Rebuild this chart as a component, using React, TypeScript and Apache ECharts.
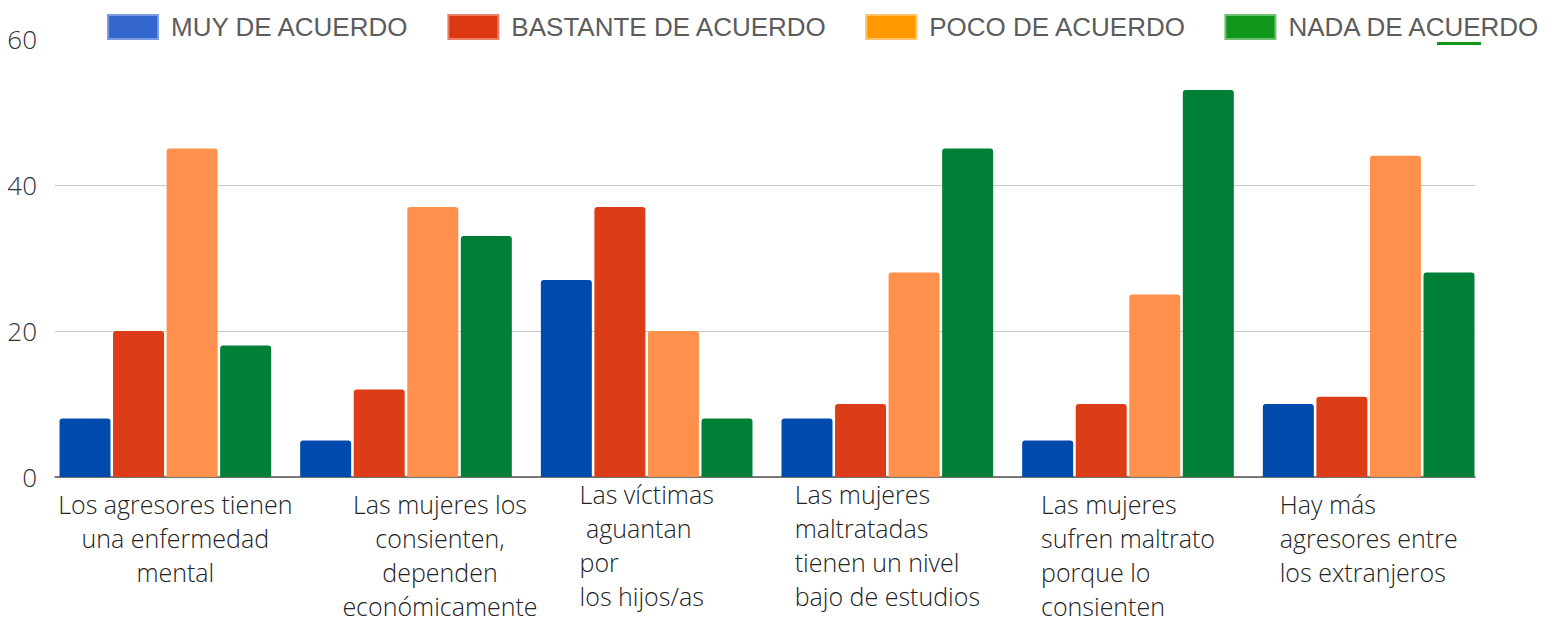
import React, { useEffect, useRef } from "react";
import * as echarts from "echarts";

const categories = [
  "Los agresores tienen\nuna enfermedad\nmental",
  "Las mujeres los\nconsienten,\ndependen\neconómicamente",
  "Las víctimas\n aguantan\npor\nlos hijos/as",
  "Las mujeres\nmaltratadas\ntienen un nivel\nbajo de estudios",
  "Las mujeres\nsufren maltrato\nporque lo\nconsienten",
  "Hay más\nagresores entre\nlos extranjeros",
];

const seriesNames = ["MUY DE ACUERDO", "BASTANTE DE ACUERDO", "POCO DE ACUERDO", "NADA DE ACUERDO"];
const muyValues = [8, 5, 27, 8, 5, 10];
const bastanteValues = [20, 12, 37, 10, 10, 11];
const pocoValues = [45, 37, 20, 28, 25, 44];
const nadaValues = [18, 33, 8, 45, 53, 28];
const yTicks = [0, 20, 40, 60];

const barColors = ["#004AAD", "#DC3D18", "#FF914D", "#008037"];
const legendColors = ["#3366CC", "#DC3912", "#FF9900", "#109618"];
const legendBorders = ["#7A9BE0", "#EC8067", "#FFC266", "#6CC070"];

const labelStyle = (index: number): string => {
  if (index === 0) return "c1";
  if (index === 1) return "c2";
  return "l";
};

export default function App() {
  const ref = useRef<HTMLDivElement>(null);
  useEffect(() => {
    if (!ref.current) return;
    const chart = echarts.init(ref.current, null, { renderer: "svg" });
    const allValues = [muyValues, bastanteValues, pocoValues, nadaValues];
    const font = "'Open Sans', sans-serif";
    const labelRich = {
      fontFamily: font,
      fontWeight: 300 as any,
      fontSize: 25,
      lineHeight: 34,
      color: "#222",
    };
    const yMin = yTicks[0];
    const yMax = yTicks[yTicks.length - 1];
    chart.setOption({
      animation: false,
      backgroundColor: "#fff",
      legend: {
        left: 107,
        top: 14,
        width: 1440,
        padding: 0,
        itemWidth: 50,
        itemHeight: 24,
        itemGap: 38,
        icon: "rect",
        textStyle: {
          fontFamily: "'Liberation Sans', Arial, sans-serif",
          fontSize: 26,
          color: "#5c5c5c",
          padding: [0, 0, 0, 8],
        },
        data: seriesNames.map((n, i) => ({
          name: n,
          itemStyle: { color: legendColors[i], borderColor: legendBorders[i], borderWidth: 2 },
        })),
      },
      grid: [
        { left: 55, right: 72, top: 39, bottom: 140, containLabel: false, outerBoundsMode: "none" },
        { left: 45, right: 58, top: 39, bottom: 140, containLabel: false, outerBoundsMode: "none" },
      ],
      xAxis: [
        {
          type: "category",
          gridIndex: 0,
          data: categories,
          axisLine: { show: true, lineStyle: { color: "#555", width: 1.5 } },
          axisTick: { show: false },
          axisLabel: { show: false },
        },
        {
          type: "category",
          gridIndex: 1,
          data: categories,
          axisLine: { show: false },
          axisTick: { show: false },
          axisLabel: {
            interval: 0,
            margin: 0,
            formatter: (value: string, index: number) => {
              const st = labelStyle(index);
              const lines = value.split("\n").map((l) => `{${st}|${l}}`);
              const needsSpacer = !(index === 2 || index === 3);
              return (needsSpacer ? "{s| }\n" : "") + lines.join("\n");
            },
            rich: {
              s: { fontSize: 4, lineHeight: 10, height: 10 },
              c1: { ...labelRich, align: "center", padding: [0, 0, 0, 20] },
              c2: { ...labelRich, align: "center", padding: [0, 0, 0, 68] },
              l: { ...labelRich, align: "left" },
            },
          },
        },
      ],
      yAxis: [
        {
          type: "value",
          gridIndex: 0,
          min: yMin,
          max: yMax,
          interval: 20,
          axisLine: { show: false },
          axisTick: { show: false },
          splitLine: { showMaxLine: false, lineStyle: { color: "#c8c8c8", width: 1 } },
          axisLabel: {
            margin: 18,
            fontFamily: font,
            fontWeight: 300 as any,
            fontSize: 26,
            color: "#333",
          },
        },
        {
          type: "value",
          gridIndex: 1,
          min: yMin,
          max: yMax,
          interval: 20,
          show: false,
          splitLine: { show: false },
        },
      ],
      series: seriesNames.map((n, i) => ({
        name: n,
        type: "bar",
        xAxisIndex: 1,
        yAxisIndex: 1,
        data: allValues[i],
        barWidth: 51,
        barGap: "5%",
        itemStyle: { color: barColors[i], borderRadius: [3, 3, 0, 0] },
      })),
      graphic: [
        {
          type: "rect",
          left: 1437,
          top: 42,
          shape: { width: 44, height: 3 },
          style: { fill: "#109618" },
        },
      ],
    });
    return () => chart.dispose();
  }, []);
  return <div ref={ref} style={{ width: 1547, height: 617, position: "absolute", left: 0, top: 0 }} />;
}
